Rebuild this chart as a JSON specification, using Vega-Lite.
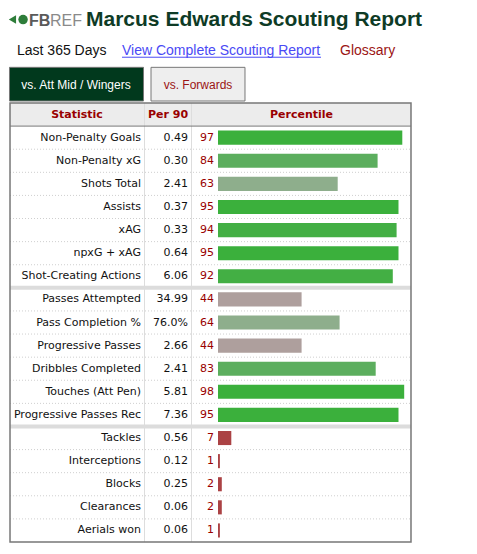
{
  "$schema": "https://vega.github.io/schema/vega-lite/v6.json",
  "padding": 0,
  "spacing": 0,
  "background": "white",
  "config": {"view": {"stroke": null}},
  "resolve": {"scale": {"y": "independent"}},
  "vconcat": [
    {
      "width": 477,
      "height": 101,
      "data": {"values": [{}]},
      "layer": [
        {"mark": {"type": "point", "shape": "triangle-left", "filled": true, "size": 70, "color": "#2e7d3a", "opacity": 1},
         "encoding": {"x": {"datum": -108.2, "type": "quantitative", "scale": {"domain": [-114.74, 136.32], "nice": false, "zero": false}, "axis": null},
                      "y": {"datum": "title", "type": "nominal", "scale": {"type": "band", "domain": ["title", "links", "tabs"], "paddingInner": 0, "paddingOuter": 0}, "axis": null, "bandPosition": 0.58}}},
        {"mark": {"type": "point", "shape": "circle", "filled": true, "size": 90, "color": "#2e7d3a", "opacity": 1},
         "encoding": {"x": {"datum": -102.6, "type": "quantitative", "scale": {"domain": [-114.74, 136.32], "nice": false, "zero": false}, "axis": null},
                      "y": {"datum": "title", "type": "nominal", "scale": {"type": "band", "domain": ["title", "links", "tabs"], "paddingInner": 0, "paddingOuter": 0}, "axis": null, "bandPosition": 0.58}}},
        {"mark": {"type": "text", "text": "FB", "font": "Liberation Sans", "fontWeight": "bold", "fontSize": 16, "color": "#5a5a5a", "align": "left", "baseline": "alphabetic"},
         "encoding": {"x": {"datum": -99.47, "type": "quantitative", "scale": {"domain": [-114.74, 136.32], "nice": false, "zero": false}, "axis": null},
                      "y": {"datum": "title", "type": "nominal", "scale": {"type": "band", "domain": ["title", "links", "tabs"], "paddingInner": 0, "paddingOuter": 0}, "axis": null, "bandPosition": 0.772}}},
        {"mark": {"type": "text", "text": "REF", "font": "Liberation Sans", "fontSize": 16, "color": "#8a8a8a", "align": "left", "baseline": "alphabetic"},
         "encoding": {"x": {"datum": -88.4, "type": "quantitative", "scale": {"domain": [-114.74, 136.32], "nice": false, "zero": false}, "axis": null},
                      "y": {"datum": "title", "type": "nominal", "scale": {"type": "band", "domain": ["title", "links", "tabs"], "paddingInner": 0, "paddingOuter": 0}, "axis": null, "bandPosition": 0.772}}},
        {"mark": {"type": "text", "text": "Marcus Edwards Scouting Report", "font": "Liberation Sans", "fontWeight": "bold", "fontSize": 21, "color": "#0e3b26", "align": "left", "baseline": "alphabetic"},
         "encoding": {"x": {"datum": -69.47, "type": "quantitative", "scale": {"domain": [-114.74, 136.32], "nice": false, "zero": false}, "axis": null},
                      "y": {"datum": "title", "type": "nominal", "scale": {"type": "band", "domain": ["title", "links", "tabs"], "paddingInner": 0, "paddingOuter": 0}, "axis": null, "bandPosition": 0.772}}},
        {"mark": {"type": "text", "text": "Last 365 Days", "font": "Liberation Sans", "fontSize": 14, "color": "#111111", "align": "left", "baseline": "alphabetic"},
         "encoding": {"x": {"datum": -105.79, "type": "quantitative", "scale": {"domain": [-114.74, 136.32], "nice": false, "zero": false}, "axis": null},
                      "y": {"datum": "links", "type": "nominal", "scale": {"type": "band", "domain": ["title", "links", "tabs"], "paddingInner": 0, "paddingOuter": 0}, "axis": null, "bandPosition": 0.634}}},
        {"mark": {"type": "text", "text": "View Complete Scouting Report", "font": "Liberation Sans", "fontSize": 14, "color": "#4a4af5", "align": "left", "baseline": "alphabetic"},
         "encoding": {"x": {"datum": -50.53, "type": "quantitative", "scale": {"domain": [-114.74, 136.32], "nice": false, "zero": false}, "axis": null},
                      "y": {"datum": "links", "type": "nominal", "scale": {"type": "band", "domain": ["title", "links", "tabs"], "paddingInner": 0, "paddingOuter": 0}, "axis": null, "bandPosition": 0.634}}},
        {"mark": {"type": "rule", "color": "#4a4af5", "strokeWidth": 1},
         "encoding": {"x": {"datum": -50.53, "type": "quantitative", "scale": {"domain": [-114.74, 136.32], "nice": false, "zero": false}, "axis": null},
                      "x2": {"datum": 54.21},
                      "y": {"datum": "links", "type": "nominal", "scale": {"type": "band", "domain": ["title", "links", "tabs"], "paddingInner": 0, "paddingOuter": 0}, "axis": null, "bandPosition": 0.7}}},
        {"mark": {"type": "text", "text": "Glossary", "font": "Liberation Sans", "fontSize": 14, "color": "#9b1414", "align": "left", "baseline": "alphabetic"},
         "encoding": {"x": {"datum": 64.21, "type": "quantitative", "scale": {"domain": [-114.74, 136.32], "nice": false, "zero": false}, "axis": null},
                      "y": {"datum": "links", "type": "nominal", "scale": {"type": "band", "domain": ["title", "links", "tabs"], "paddingInner": 0, "paddingOuter": 0}, "axis": null, "bandPosition": 0.634}}},
        {"mark": {"type": "rect", "fill": "#01391d", "stroke": "#777777", "strokeWidth": 1},
         "encoding": {"x": {"datum": -109.74, "type": "quantitative", "scale": {"domain": [-114.74, 136.32], "nice": false, "zero": false}, "axis": null},
                      "x2": {"datum": -39.21},
                      "y": {"datum": "tabs", "type": "nominal", "scale": {"type": "band", "domain": ["title", "links", "tabs"], "paddingInner": 0, "paddingOuter": 0}, "axis": null}}},
        {"mark": {"type": "rect", "fill": "#eeeeee", "stroke": "#777777", "strokeWidth": 1},
         "encoding": {"x": {"datum": -35.26, "type": "quantitative", "scale": {"domain": [-114.74, 136.32], "nice": false, "zero": false}, "axis": null},
                      "x2": {"datum": 14.21},
                      "y": {"datum": "tabs", "type": "nominal", "scale": {"type": "band", "domain": ["title", "links", "tabs"], "paddingInner": 0, "paddingOuter": 0}, "axis": null}}},
        {"mark": {"type": "text", "text": "vs. Att Mid / Wingers", "font": "Liberation Sans", "fontSize": 12, "color": "#ffffff", "align": "center", "baseline": "alphabetic"},
         "encoding": {"x": {"datum": -74.74, "type": "quantitative", "scale": {"domain": [-114.74, 136.32], "nice": false, "zero": false}, "axis": null},
                      "y": {"datum": "tabs", "type": "nominal", "scale": {"type": "band", "domain": ["title", "links", "tabs"], "paddingInner": 0, "paddingOuter": 0}, "axis": null, "bandPosition": 0.652}}},
        {"mark": {"type": "text", "text": "vs. Forwards", "font": "Liberation Sans", "fontSize": 12, "color": "#9b1414", "align": "center", "baseline": "alphabetic"},
         "encoding": {"x": {"datum": -10.53, "type": "quantitative", "scale": {"domain": [-114.74, 136.32], "nice": false, "zero": false}, "axis": null},
                      "y": {"datum": "tabs", "type": "nominal", "scale": {"type": "band", "domain": ["title", "links", "tabs"], "paddingInner": 0, "paddingOuter": 0}, "axis": null, "bandPosition": 0.652}}}
      ]
    },
    {
      "width": 477,
      "height": 439,
      "data": {"values": [
        {"stat": "Non-Penalty Goals", "per90": "0.49", "pct": 97, "group": "Attacking"},
        {"stat": "Non-Penalty xG", "per90": "0.30", "pct": 84, "group": "Attacking"},
        {"stat": "Shots Total", "per90": "2.41", "pct": 63, "group": "Attacking"},
        {"stat": "Assists", "per90": "0.37", "pct": 95, "group": "Attacking"},
        {"stat": "xAG", "per90": "0.33", "pct": 94, "group": "Attacking"},
        {"stat": "npxG + xAG", "per90": "0.64", "pct": 95, "group": "Attacking"},
        {"stat": "Shot-Creating Actions", "per90": "6.06", "pct": 92, "group": "Attacking"},
        {"stat": "Passes Attempted", "per90": "34.99", "pct": 44, "group": "Possession"},
        {"stat": "Pass Completion %", "per90": "76.0%", "pct": 64, "group": "Possession"},
        {"stat": "Progressive Passes", "per90": "2.66", "pct": 44, "group": "Possession"},
        {"stat": "Dribbles Completed", "per90": "2.41", "pct": 83, "group": "Possession"},
        {"stat": "Touches (Att Pen)", "per90": "5.81", "pct": 98, "group": "Possession"},
        {"stat": "Progressive Passes Rec", "per90": "7.36", "pct": 95, "group": "Possession"},
        {"stat": "Tackles", "per90": "0.56", "pct": 7, "group": "Defending"},
        {"stat": "Interceptions", "per90": "0.12", "pct": 1, "group": "Defending"},
        {"stat": "Blocks", "per90": "0.25", "pct": 2, "group": "Defending"},
        {"stat": "Clearances", "per90": "0.06", "pct": 2, "group": "Defending"},
        {"stat": "Aerials won", "per90": "0.06", "pct": 1, "group": "Defending"}
      ]},
      "layer": [
        {"data": {"values": [{}]},
         "mark": {"type": "rect", "fill": "#ececec"},
         "encoding": {"x": {"datum": -109.47, "type": "quantitative", "scale": {"domain": [-114.74, 136.32], "nice": false, "zero": false}, "axis": null},
                      "x2": {"datum": 101.58},
                      "y": {"datum": "Header", "type": "nominal", "scale": {"type": "band", "domain": ["Header", "Non-Penalty Goals", "Non-Penalty xG", "Shots Total", "Assists", "xAG", "npxG + xAG", "Shot-Creating Actions", "Passes Attempted", "Pass Completion %", "Progressive Passes", "Dribbles Completed", "Touches (Att Pen)", "Progressive Passes Rec", "Tackles", "Interceptions", "Blocks", "Clearances", "Aerials won"], "paddingInner": 0, "paddingOuter": 0}, "axis": null}}},
        {"transform": [{"filter": "datum.stat !== 'Aerials won'"}],
         "mark": {"type": "rule", "color": "#cfcfcf", "strokeWidth": 1, "strokeDash": [1, 2]},
         "encoding": {"x": {"datum": -109.47, "type": "quantitative", "scale": {"domain": [-114.74, 136.32], "nice": false, "zero": false}, "axis": null},
                      "x2": {"datum": 101.58},
                      "y": {"field": "stat", "type": "nominal", "bandPosition": 1, "scale": {"type": "band", "domain": ["Header", "Non-Penalty Goals", "Non-Penalty xG", "Shots Total", "Assists", "xAG", "npxG + xAG", "Shot-Creating Actions", "Passes Attempted", "Pass Completion %", "Progressive Passes", "Dribbles Completed", "Touches (Att Pen)", "Progressive Passes Rec", "Tackles", "Interceptions", "Blocks", "Clearances", "Aerials won"], "paddingInner": 0, "paddingOuter": 0}, "axis": null}}},
        {"data": {"values": [{"sep": -38.68}, {"sep": -13.95}]},
         "mark": {"type": "rule", "color": "#dddddd", "strokeWidth": 1},
         "encoding": {"x": {"field": "sep", "type": "quantitative", "scale": {"domain": [-114.74, 136.32], "nice": false, "zero": false}, "axis": null}}},
        {"transform": [{"filter": "datum.stat === 'Shot-Creating Actions' || datum.stat === 'Progressive Passes Rec'"}],
         "mark": {"type": "rule", "color": "#dcdcdc", "strokeWidth": 4},
         "encoding": {"x": {"datum": -109.47, "type": "quantitative", "scale": {"domain": [-114.74, 136.32], "nice": false, "zero": false}, "axis": null},
                      "x2": {"datum": 101.58},
                      "y": {"field": "stat", "type": "nominal", "bandPosition": 1, "scale": {"type": "band", "domain": ["Header", "Non-Penalty Goals", "Non-Penalty xG", "Shots Total", "Assists", "xAG", "npxG + xAG", "Shot-Creating Actions", "Passes Attempted", "Pass Completion %", "Progressive Passes", "Dribbles Completed", "Touches (Att Pen)", "Progressive Passes Rec", "Tackles", "Interceptions", "Blocks", "Clearances", "Aerials won"], "paddingInner": 0, "paddingOuter": 0}, "axis": null}}},
        {"data": {"values": [{}]},
         "mark": {"type": "rule", "color": "#777777", "strokeWidth": 1},
         "encoding": {"x": {"datum": -109.47, "type": "quantitative", "scale": {"domain": [-114.74, 136.32], "nice": false, "zero": false}, "axis": null},
                      "x2": {"datum": 101.58},
                      "y": {"datum": "Header", "type": "nominal", "bandPosition": 1, "scale": {"type": "band", "domain": ["Header", "Non-Penalty Goals", "Non-Penalty xG", "Shots Total", "Assists", "xAG", "npxG + xAG", "Shot-Creating Actions", "Passes Attempted", "Pass Completion %", "Progressive Passes", "Dribbles Completed", "Touches (Att Pen)", "Progressive Passes Rec", "Tackles", "Interceptions", "Blocks", "Clearances", "Aerials won"], "paddingInner": 0, "paddingOuter": 0}, "axis": null}}},
        {"mark": {"type": "bar", "height": {"band": 0.61}},
         "encoding": {"x": {"field": "pct", "type": "quantitative", "scale": {"domain": [-114.74, 136.32], "nice": false, "zero": false}, "axis": null},
                      "y": {"field": "stat", "type": "nominal", "scale": {"type": "band", "domain": ["Header", "Non-Penalty Goals", "Non-Penalty xG", "Shots Total", "Assists", "xAG", "npxG + xAG", "Shot-Creating Actions", "Passes Attempted", "Pass Completion %", "Progressive Passes", "Dribbles Completed", "Touches (Att Pen)", "Progressive Passes Rec", "Tackles", "Interceptions", "Blocks", "Clearances", "Aerials won"], "paddingInner": 0, "paddingOuter": 0}, "axis": null},
                      "color": {"field": "pct", "type": "quantitative", "legend": null, "scale": {"type": "threshold", "domain": [10, 50, 70, 90, 95], "range": ["#ab4244", "#ae9f9d", "#8eae8c", "#5cae5e", "#43af44", "#3bb03c"]}}}},
        {"mark": {"type": "text", "font": "DejaVu Sans", "fontSize": 11, "color": "#111111", "align": "right", "baseline": "middle"},
         "encoding": {"x": {"datum": -40.53, "type": "quantitative", "scale": {"domain": [-114.74, 136.32], "nice": false, "zero": false}, "axis": null},
                      "y": {"field": "stat", "type": "nominal", "scale": {"type": "band", "domain": ["Header", "Non-Penalty Goals", "Non-Penalty xG", "Shots Total", "Assists", "xAG", "npxG + xAG", "Shot-Creating Actions", "Passes Attempted", "Pass Completion %", "Progressive Passes", "Dribbles Completed", "Touches (Att Pen)", "Progressive Passes Rec", "Tackles", "Interceptions", "Blocks", "Clearances", "Aerials won"], "paddingInner": 0, "paddingOuter": 0}, "axis": null},
                      "text": {"field": "stat"}}},
        {"mark": {"type": "text", "font": "DejaVu Sans", "fontSize": 11, "color": "#111111", "align": "right", "baseline": "middle"},
         "encoding": {"x": {"datum": -15.79, "type": "quantitative", "scale": {"domain": [-114.74, 136.32], "nice": false, "zero": false}, "axis": null},
                      "y": {"field": "stat", "type": "nominal", "scale": {"type": "band", "domain": ["Header", "Non-Penalty Goals", "Non-Penalty xG", "Shots Total", "Assists", "xAG", "npxG + xAG", "Shot-Creating Actions", "Passes Attempted", "Pass Completion %", "Progressive Passes", "Dribbles Completed", "Touches (Att Pen)", "Progressive Passes Rec", "Tackles", "Interceptions", "Blocks", "Clearances", "Aerials won"], "paddingInner": 0, "paddingOuter": 0}, "axis": null},
                      "text": {"field": "per90"}}},
        {"mark": {"type": "text", "font": "DejaVu Sans", "fontSize": 11, "color": "#990000", "align": "right", "baseline": "middle"},
         "encoding": {"x": {"datum": -2.11, "type": "quantitative", "scale": {"domain": [-114.74, 136.32], "nice": false, "zero": false}, "axis": null},
                      "y": {"field": "stat", "type": "nominal", "scale": {"type": "band", "domain": ["Header", "Non-Penalty Goals", "Non-Penalty xG", "Shots Total", "Assists", "xAG", "npxG + xAG", "Shot-Creating Actions", "Passes Attempted", "Pass Completion %", "Progressive Passes", "Dribbles Completed", "Touches (Att Pen)", "Progressive Passes Rec", "Tackles", "Interceptions", "Blocks", "Clearances", "Aerials won"], "paddingInner": 0, "paddingOuter": 0}, "axis": null},
                      "text": {"field": "pct", "type": "quantitative"}}},
        {"data": {"values": [{"col": "Statistic", "pos": -74.2}, {"col": "Per 90", "pos": -26.32}, {"col": "Percentile", "pos": 43.95}]},
         "mark": {"type": "text", "font": "DejaVu Sans", "fontWeight": "bold", "fontSize": 11, "color": "#990000", "align": "center", "baseline": "middle"},
         "encoding": {"x": {"field": "pos", "type": "quantitative", "scale": {"domain": [-114.74, 136.32], "nice": false, "zero": false}, "axis": null},
                      "y": {"datum": "Header", "type": "nominal", "scale": {"type": "band", "domain": ["Header", "Non-Penalty Goals", "Non-Penalty xG", "Shots Total", "Assists", "xAG", "npxG + xAG", "Shot-Creating Actions", "Passes Attempted", "Pass Completion %", "Progressive Passes", "Dribbles Completed", "Touches (Att Pen)", "Progressive Passes Rec", "Tackles", "Interceptions", "Blocks", "Clearances", "Aerials won"], "paddingInner": 0, "paddingOuter": 0}, "axis": null},
                      "text": {"field": "col"}}},
        {"data": {"values": [{}]},
         "mark": {"type": "rect", "fill": null, "fillOpacity": 0, "stroke": "#777777", "strokeWidth": 1.5},
         "encoding": {"x": {"datum": -109.47, "type": "quantitative", "scale": {"domain": [-114.74, 136.32], "nice": false, "zero": false}, "axis": null},
                      "x2": {"datum": 101.58}}}
      ]
    }
  ]
}
